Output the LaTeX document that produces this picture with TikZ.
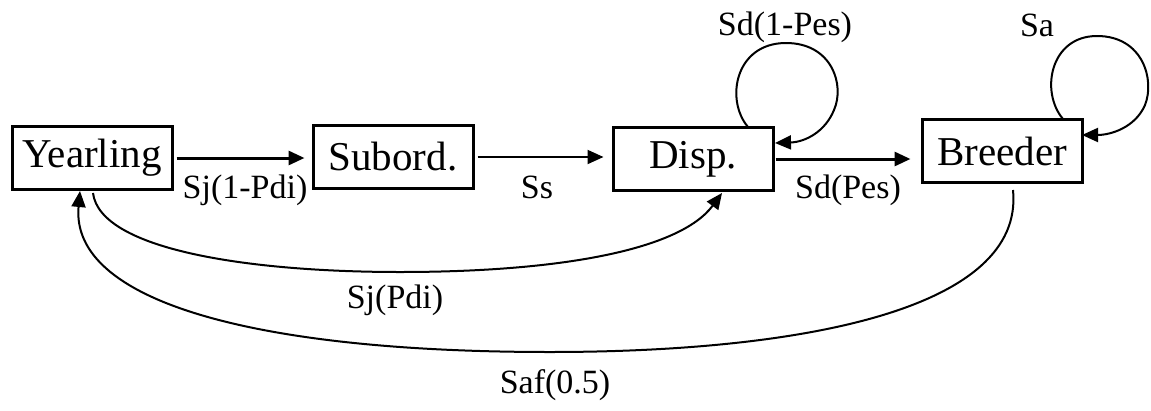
\documentclass[tikz,border=0pt]{standalone}
\usepackage{fontspec}
\setmainfont{Liberation Serif}
\usetikzlibrary{arrows.meta}
\tikzset{
  box/.style={draw, line width=3pt, minimum width=160pt, minimum height=63pt, inner sep=0pt, font=\fontsize{41}{48}\selectfont},
  lbl/.style={inner sep=0pt, font=\fontsize{34}{40}\selectfont},
  tip/.style={-{Triangle[length=16pt,width=14pt]}},
  curve/.style={tip, line width=2pt},
}
\begin{document}
\begin{tikzpicture}[x=1pt,y=-1pt]
\useasboundingbox (0,0) rectangle (1151,410);
\node[box] (Y) at (92,158) {Yearling};
\node[box] (S) at (393,157) {Subord.};
\node[box] (D) at (693,159) {Disp.};
\node[box] (B) at (1002,151) {Breeder};

\draw[tip, line width=3pt, shorten <=3pt, shorten >=7pt] (Y.east) -- (Y.east -| S.west);
\draw[tip, line width=2pt, shorten <=3pt, shorten >=8pt] (S.east) -- (S.east -| D.west);
\draw[tip, line width=3pt, shorten <=1pt, shorten >=10pt] (D.east) -- (D.east -| B.west);

\node[lbl] (l1) at (245,190) {Sj(1-Pdi)};
\node[lbl] (l2) at (537,187) {Ss};
\node[lbl] (l3) at (848,190) {Sd(Pes)};
\node[lbl] (l4) at (785,27) {Sd(1-Pes)};
\node[lbl] (l5) at (1037,25) {Sa};
\node[lbl] (l6) at (395,300) {Sj(Pdi)};
\node[lbl] (l7) at (555,385) {Saf(0.5)};

\coordinate (ys) at (93,193);
\coordinate (yt) at (80,191);
\coordinate (dt) at (722,193);
\coordinate (bs) at (1013,190);
\coordinate (dl) at (748,127);
\coordinate (dlt) at (775,143);
\coordinate (bl) at (1063,119);
\coordinate (blt) at (1082,135);

\draw[curve] (ys) .. controls (100,250) and (250,272) .. (400,272)
  .. controls (560,272) and (680,250) .. (dt);
\draw[curve] (bs) .. controls (1025,310) and (800,352) .. (550,352)
  .. controls (250,352) and (70,300) .. (yt);
\draw[curve] (dl) .. controls (725,100) and (735,43) .. (786,43)
  .. controls (832,43) and (845,85) .. (834,110)
  .. controls (825,132) and (805,142) .. (dlt);
\draw[curve] (bl) .. controls (1040,92) and (1050,36) .. (1097,36)
  .. controls (1143,36) and (1155,80) .. (1145,105)
  .. controls (1135,128) and (1110,135) .. (blt);
\end{tikzpicture}
\end{document}
